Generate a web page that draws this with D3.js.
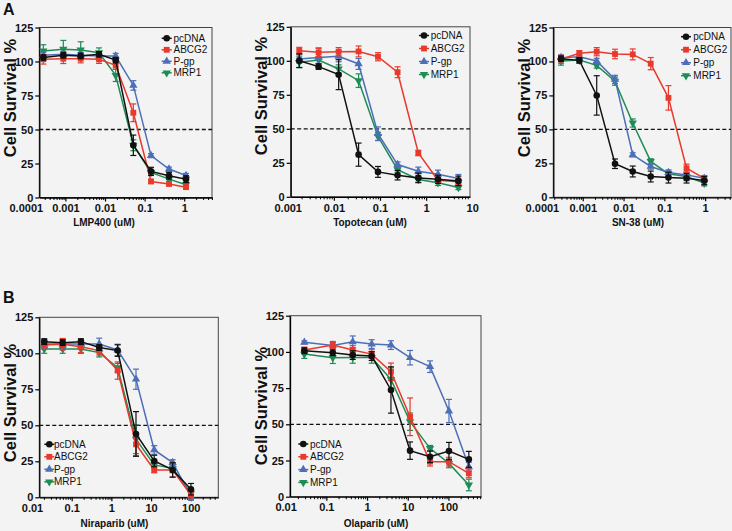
<!DOCTYPE html>
<html><head><meta charset="utf-8">
<script src="https://cdn.jsdelivr.net/npm/d3@7"></script>
<style>
html,body{margin:0;padding:0;background:#f3f3f3;}
svg{display:block;font-family:Arial,"Liberation Sans",sans-serif;}
</style></head><body>
<svg id="chart" width="732" height="531"></svg>
<script>
const seriesNames = ["pcDNA", "ABCG2", "P-gp", "MRP1"];
const seriesColors = ["#111111", "#e83a2c", "#4d6fb8", "#1e8c55"];
const yTicks = [0, 25, 50, 75, 100, 125];

// Panel A1: LMP400
const lmpDose = [0.000277, 0.000885, 0.00243, 0.00705, 0.0186, 0.0519, 0.145, 0.413, 1.11];
const lmpTicks = [0.0001, 0.001, 0.01, 0.1, 1];
const lmpPcDNA = [102.9, 104.6, 104.1, 105.3, 101.0, 38.4, 19.2, 16.0, 13.5];
const lmpPcDNAErr = [2, 2, 2, 2, 2, 7.5, 3, 2.5, 2.5];
const lmpABCG2 = [101.6, 102.0, 102.0, 101.6, 97.2, 62.3, 11.8, 10.0, 7.6];
const lmpABCG2Err = [3.5, 3.5, 3, 3, 3, 6.5, 1.5, 1.5, 1.5];
const lmpPgp = [104.6, 105.3, 104.6, 104.0, 104.0, 82.4, 30.8, 20.9, 16.2];
const lmpPgpErr = [2, 2, 2, 2, 2, 3.5, 1.5, 1.5, 1.5];
const lmpMRP1 = [107.8, 109.0, 108.5, 106.5, 89.8, 38.4, 18.5, 13.5, 9.4];
const lmpMRP1Err = [4.5, 6.5, 6, 3.5, 4.5, 4, 1.5, 1.5, 1.5];

// Panel A2: Topotecan
const topoDose = [0.00178, 0.00467, 0.0127, 0.0344, 0.0905, 0.241, 0.678, 1.81, 5.01];
const topoTicks = [0.001, 0.01, 0.1, 1, 10];
const topoPcDNA = [100.1, 95.7, 89.8, 31.0, 18.3, 15.9, 13.9, 12.9, 11.7];
const topoPcDNAErr = [5, 2, 11, 8.5, 4, 3.5, 3.5, 3, 3.5];
const topoABCG2 = [107.4, 106.2, 106.7, 106.9, 103.0, 91.6, 32.2, 12.2, 11.0];
const topoABCG2Err = [2.5, 3, 3, 4, 3, 4, 2, 2, 2];
const topoPgp = [101.3, 102.5, 103.3, 97.7, 46.4, 23.7, 18.8, 16.6, 13.4];
const topoPgpErr = [3, 7, 4, 4, 5, 2, 3, 3, 3];
const topoMRP1 = [98.9, 100.6, 94.0, 85.4, 44.4, 20.0, 12.7, 10.3, 6.8];
const topoMRP1Err = [4, 2.5, 3, 5, 3, 2, 2, 2, 1.5];

// Panel A3: SN-38
const snDose = [0.000294, 0.000825, 0.0022, 0.00618, 0.0168, 0.0464, 0.126, 0.35, 0.95];
const snTicks = [0.0001, 0.001, 0.01, 0.1, 1];
const snPcDNA = [102, 100.8, 75, 24.7, 19, 15.3, 14.5, 14, 12.3];
const snPcDNAErr = [2, 2, 14.5, 3.5, 4, 4, 4, 3.5, 3];
const snABCG2 = [101.6, 106, 107.2, 105.5, 105.2, 98.4, 73.2, 21.4, 14];
const snABCG2Err = [3, 2, 3, 3.5, 4, 4.5, 9, 3, 2];
const snPgp = [102.8, 103.5, 100.3, 86.8, 31.3, 22.7, 18.2, 16.5, 14];
const snPgpErr = [2, 2, 2, 3, 1.5, 2, 2, 2, 2];
const snMRP1 = [100.3, 101, 97.1, 85.5, 54.7, 26.4, 17.3, 15.3, 10.4];
const snMRP1Err = [3, 2, 2, 3, 3, 2, 2, 3, 2];

// Panel B1: Niraparib
const niraDose = [0.0204, 0.0594, 0.171, 0.494, 1.44, 4.17, 12.0, 34.9, 101];
const niraTicks = [0.01, 0.1, 1, 10, 100];
const niraPcDNA = [108.1, 107.4, 108.1, 104, 101.9, 44, 25.2, 19, 5.6];
const niraPcDNAErr = [2, 2, 2, 2, 4, 15.5, 4, 5, 4];
const niraABCG2 = [105.8, 106.3, 104.6, 101.9, 88, 36.8, 19, 19, 1.6];
const niraABCG2Err = [3, 4, 4, 3, 6, 8, 2, 5, 3];
const niraPgp = [106.5, 106.5, 106.5, 106.5, 102.3, 82, 32.9, 24.1, 0.9];
const niraPgpErr = [3, 3, 3, 4, 4, 7, 3, 2, 3];
const niraMRP1 = [103, 103, 103, 100.5, 90, 40.3, 22.5, 20.1, 2.8];
const niraMRP1Err = [3, 3, 3, 3, 3, 10, 3, 3, 3];

// Panel B2: Olaparib
const olaDose = [0.0288, 0.144, 0.445, 1.30, 3.87, 11.4, 35.3, 103, 317];
const olaTicks = [0.01, 0.1, 1, 10, 100];
const olaPcDNA = [100.8, 99.4, 97.8, 97.1, 73.7, 31.8, 27.6, 31.5, 25.8];
const olaPcDNAErr = [2, 2, 3, 3, 16, 6, 4, 6, 5.5];
const olaABCG2 = [101.3, 104.7, 101.3, 98.5, 86.3, 55.2, 24.2, 24.2, 16.1];
const olaABCG2Err = [2, 2.5, 3, 3, 6, 13, 3, 3, 3];
const olaPgp = [106.6, 104.5, 107, 105.4, 104.7, 96, 89.8, 59.2, 20.7];
const olaPgpErr = [1, 2, 4, 3, 3, 5, 4, 8, 3];
const olaMRP1 = [98.5, 96, 96.2, 96.2, 81, 51.8, 33.4, 23, 8.1];
const olaMRP1Err = [3, 4, 4, 4, 8, 6, 2, 3, 4];

// ---- layout (positions only) ----
const panels = [
  {title: "LMP400 (uM)", dose: lmpDose, ticks: lmpTicks,
   vals: [lmpPcDNA, lmpABCG2, lmpPgp, lmpMRP1], errs: [lmpPcDNAErr, lmpABCG2Err, lmpPgpErr, lmpMRP1Err],
   xd: [0.000219, 5.03], xr: [39.3, 212], yr: [197.5, 27.5], ytx: 10, yty: 98, xtx: 104, xty: 226,
   leg: {x: 166.7, tx: 173.5, y: 38.3, dy: 11.5}},
  {title: "Topotecan (uM)", dose: topoDose, ticks: topoTicks,
   vals: [topoPcDNA, topoABCG2, topoPgp, topoMRP1], errs: [topoPcDNAErr, topoABCG2Err, topoPgpErr, topoMRP1Err],
   xd: [0.00116, 8.95], xr: [290.7, 470], yr: [196.8, 26.8], ytx: 261, yty: 96, xtx: 370, xty: 226,
   leg: {x: 424, tx: 430.7, y: 35.5, dy: 13}},
  {title: "SN-38 (uM)", dose: snDose, ticks: snTicks,
   vals: [snPcDNA, snABCG2, snPgp, snMRP1], errs: [snPcDNAErr, snABCG2Err, snPgpErr, snMRP1Err],
   xd: [0.00019, 4.3], xr: [553.3, 731], yr: [197.3, 27.5], ytx: 524, yty: 98, xtx: 638, xty: 226,
   leg: {x: 686, tx: 693.3, y: 36.7, dy: 13}},
  {title: "Niraparib (uM)", dose: niraDose, ticks: niraTicks,
   vals: [niraPcDNA, niraABCG2, niraPgp, niraMRP1], errs: [niraPcDNAErr, niraABCG2Err, niraPgpErr, niraMRP1Err],
   xd: [0.0153, 493], xr: [39.3, 218.3], yr: [497.3, 317.3], ytx: 10, yty: 403, xtx: 114.5, xty: 527,
   leg: {x: 49.3, tx: 54, y: 444.3, dy: 12.5}},
  {title: "Olaparib (uM)", dose: olaDose, ticks: olaTicks,
   vals: [olaPcDNA, olaABCG2, olaPgp, olaMRP1], errs: [olaPcDNAErr, olaABCG2Err, olaPgpErr, olaMRP1Err],
   xd: [0.0128, 631], xr: [290, 481], yr: [496.7, 315.7], ytx: 261, yty: 406, xtx: 376, xty: 527,
   leg: {x: 303.3, tx: 310, y: 444, dy: 12.8}}
];

const svg = d3.select("#chart");
svg.append("rect").attr("width", 732).attr("height", 531).attr("fill", "#f3f3f3");

const symTypes = [d3.symbolCircle, d3.symbolSquare, d3.symbolTriangle, d3.symbolTriangle];
const symSizes = [34, 34, 30, 30];
const symRot = [0, 0, 0, 180];
function marker(g, i, cx, cy) {
  g.append("path")
    .attr("d", d3.symbol().type(symTypes[i]).size(symSizes[i])())
    .attr("transform", `translate(${cx},${cy}) rotate(${symRot[i]})`)
    .attr("fill", seriesColors[i]);
}

panels.forEach(p => {
  const x = d3.scaleLog().domain(p.xd).range(p.xr);
  const y = d3.scaleLinear().domain([0, 125]).range(p.yr);
  const g = svg.append("g");

  // frame
  g.append("rect").attr("x", p.xr[0]).attr("y", p.yr[1])
    .attr("width", p.xr[1] - p.xr[0]).attr("height", p.yr[0] - p.yr[1])
    .attr("fill", "none").attr("stroke", "#444").attr("stroke-width", 1);

  // dashed 50% line
  g.append("line").attr("x1", p.xr[0]).attr("x2", p.xr[1])
    .attr("y1", y(50)).attr("y2", y(50))
    .attr("stroke", "#111").attr("stroke-width", 1.3).attr("stroke-dasharray", "4,2.5");

  // y axis
  const ya = g.append("g").attr("transform", `translate(${p.xr[0]},0)`)
    .call(d3.axisLeft(y).tickValues(yTicks).tickSize(4).tickSizeOuter(0).tickPadding(2));
  ya.select(".domain").attr("stroke", "#000").attr("stroke-width", 1.3);
  ya.selectAll(".tick line").attr("stroke", "#000").attr("stroke-width", 1.2);
  ya.selectAll("text").attr("font-size", 11).attr("font-weight", "bold").attr("fill", "#111")
    .attr("font-family", "Arial, 'Liberation Sans', sans-serif");

  // x minor ticks
  const lo = Math.floor(Math.log10(p.xd[0])), hi = Math.ceil(Math.log10(p.xd[1]));
  const minors = [];
  for (let k = lo; k <= hi; k++) for (let m = 2; m <= 9; m++) {
    const v = m * Math.pow(10, k);
    if (v >= p.xd[0] && v <= p.xd[1]) minors.push(v);
  }
  const xm = g.append("g").attr("transform", `translate(0,${p.yr[0]})`)
    .call(d3.axisBottom(x).tickValues(minors).tickFormat("").tickSize(2.5).tickSizeOuter(0));
  xm.select(".domain").remove();
  xm.selectAll(".tick line").attr("stroke", "#000").attr("stroke-width", 1);

  // x major axis
  const xa = g.append("g").attr("transform", `translate(0,${p.yr[0]})`)
    .call(d3.axisBottom(x).tickValues(p.ticks).tickFormat(d => String(d)).tickSize(4).tickSizeOuter(0).tickPadding(3));
  xa.select(".domain").attr("stroke", "#000").attr("stroke-width", 1.3);
  xa.selectAll(".tick line").attr("stroke", "#000").attr("stroke-width", 1.2)
    .attr("display", d => (d >= p.xd[0] && d <= p.xd[1]) ? null : "none");
  xa.selectAll("text").attr("font-size", 11).attr("font-weight", "bold").attr("fill", "#111")
    .attr("font-family", "Arial, 'Liberation Sans', sans-serif");

  // titles
  g.append("text").attr("transform", `translate(${p.ytx},${p.yty}) rotate(-90)`)
    .attr("text-anchor", "middle").attr("dy", "0.35em")
    .attr("font-size", 16.5).attr("font-weight", "bold").attr("fill", "#111")
    .text("Cell Survival %");
  g.append("text").attr("x", p.xtx).attr("y", p.xty).attr("text-anchor", "middle")
    .attr("font-size", 10).attr("font-weight", "bold").attr("fill", "#111")
    .text(p.title);

  // series (draw last series first so pcDNA on top)
  const line = d3.line().x(d => x(d.d)).y(d => y(d.v));
  for (let i = seriesNames.length - 1; i >= 0; i--) {
    const pts = p.dose.map((d, j) => ({d: d, v: p.vals[i][j], e: p.errs[i][j]}));
    const sg = g.append("g");
    sg.append("path").datum(pts).attr("d", line).attr("fill", "none")
      .attr("stroke", seriesColors[i]).attr("stroke-width", 1.5);
    pts.forEach(pt => {
      const cx = x(pt.d), y1 = y(pt.v - pt.e), y2 = y(pt.v + pt.e);
      sg.append("line").attr("x1", cx).attr("x2", cx).attr("y1", y1).attr("y2", y2)
        .attr("stroke", seriesColors[i]).attr("stroke-width", 1.2);
      [y1, y2].forEach(yy => sg.append("line").attr("x1", cx - 3).attr("x2", cx + 3)
        .attr("y1", yy).attr("y2", yy).attr("stroke", seriesColors[i]).attr("stroke-width", 1.2));
      marker(sg, i, cx, y(pt.v));
    });
  }

  // legend
  seriesNames.forEach((name, i) => {
    const ly = p.leg.y + i * p.leg.dy;
    g.append("line").attr("x1", p.leg.x - 5).attr("x2", p.leg.x + 5).attr("y1", ly).attr("y2", ly)
      .attr("stroke", seriesColors[i]).attr("stroke-width", 1.5);
    marker(g, i, p.leg.x, ly);
    g.append("text").attr("x", p.leg.tx).attr("y", ly).attr("dy", "0.35em")
      .attr("font-size", 10).attr("fill", "#111").text(name);
  });
});

// panel letters
svg.append("text").attr("x", 3).attr("y", 15).attr("font-size", 16).attr("font-weight", "bold").attr("fill", "#111").text("A");
svg.append("text").attr("x", 3).attr("y", 303).attr("font-size", 16).attr("font-weight", "bold").attr("fill", "#111").text("B");
</script>
</body></html>
